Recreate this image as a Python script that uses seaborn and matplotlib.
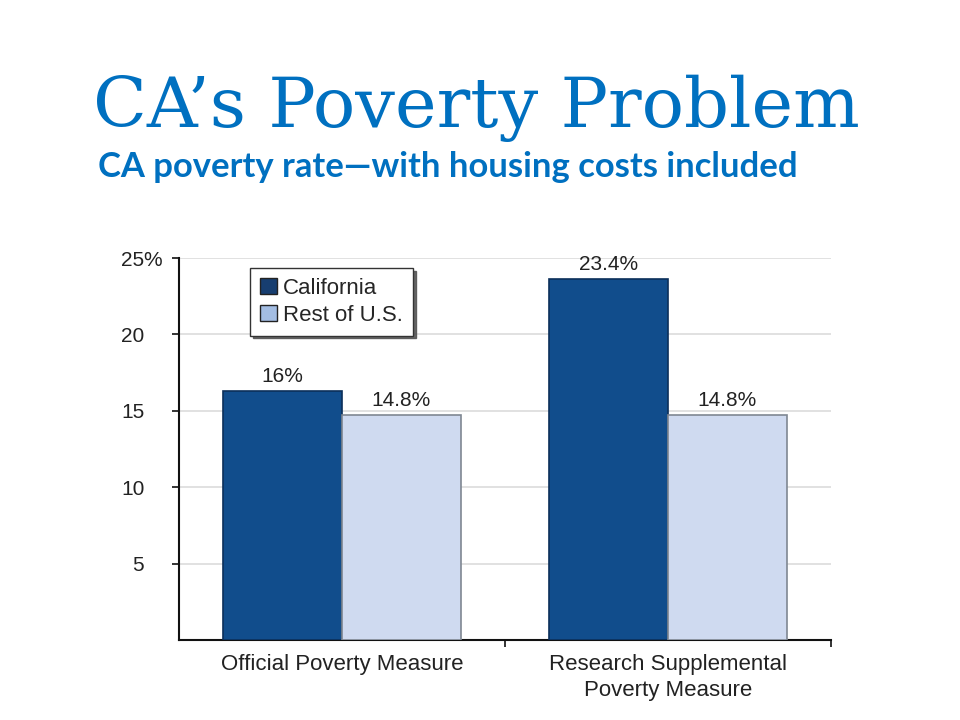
import numpy as np
import pandas as pd
import matplotlib
matplotlib.use('Agg')
import matplotlib.pyplot as plt
import matplotlib.patches as mpatches
from matplotlib.ticker import FixedLocator
import seaborn as sns

# data (bar heights as drawn, labels as printed)
measures = ['Official Poverty Measure', 'Research Supplemental\nPoverty Measure']
groups = ['California', 'Rest of U.S.']
california = [16.3, 23.6]
rest_of_us = [14.7, 14.7]
value_labels = [['16%', '23.4%'], ['14.8%', '14.8%']]
y_ticks = [5, 10, 15, 20, 25]
y_tick_labels = ['5', '10', '15', '20', '25']

df = pd.DataFrame({
    'measure': measures * 2,
    'group': [groups[0]] * 2 + [groups[1]] * 2,
    'rate': california + rest_of_us,
})

sns.set_theme(style='white')
plt.rcParams['font.family'] = ['Liberation Sans', 'DejaVu Sans']

bar_colors = {'California': '#114d8c', 'Rest of U.S.': '#cfdaf0'}
edge_colors = ['#0b2f5a', '#7f8792']
legend_colors = ['#173e70', '#a3bde3']

fig = plt.figure(figsize=(9.6, 7.2), dpi=100)
ax = fig.add_axes([179 / 960, 1 - 640 / 720, 652 / 960, 382 / 720])

sns.barplot(data=df, x='measure', y='rate', hue='group', order=measures,
            hue_order=groups, palette=bar_colors, saturation=1, width=0.73,
            gap=0, legend=False, ax=ax, zorder=3)

# bar edges + value labels
for i, cont in enumerate(ax.containers):
    for j, bar in enumerate(cont):
        bar.set_edgecolor(edge_colors[i])
        bar.set_linewidth(1.2)
        ax.text(bar.get_x() + bar.get_width() / 2, bar.get_height() + 0.35,
                value_labels[i][j], ha='center', va='bottom', fontsize=15,
                color='#222222')

ax.set_xlim(-0.5, 1.5)
ax.set_ylim(0, 25)
ax.set_xlabel('')
ax.set_ylabel('')

# numbers right-aligned, the % of the top label hangs past them
ax.set_yticks(y_ticks)
ax.set_yticklabels(y_tick_labels, fontsize=15, color='#222222')
ax.yaxis.grid(True, color='#dcdcdc', linewidth=1.2, zorder=0)
ax.tick_params(axis='y', which='major', direction='out', length=5, width=1.2,
               color='#111111', left=True, pad=20)
ax.annotate('%', xy=(0, 25), xycoords=('axes fraction', 'data'),
            xytext=(-26, 0), textcoords='offset points', ha='left',
            va='center_baseline', fontsize=15, color='#222222',
            annotation_clip=False)

ax.tick_params(axis='x', which='major', length=0, labelsize=16,
               labelcolor='#222222', pad=10)
for lab in ax.get_xticklabels():
    lab.set_linespacing(1.3)
ax.xaxis.set_minor_locator(FixedLocator([0.5, 1.5]))
ax.tick_params(axis='x', which='minor', direction='out', length=5, width=1.2,
               color='#111111', bottom=True)

for side in ['top', 'right']:
    ax.spines[side].set_visible(False)
for side in ['left', 'bottom']:
    ax.spines[side].set_color('#111111')
    ax.spines[side].set_linewidth(1.5)

handles = [mpatches.Patch(facecolor=c, edgecolor='#222222', linewidth=1.0)
           for c in legend_colors]
leg = ax.legend(handles, groups, loc='upper left',
                bbox_to_anchor=(71 / 652, 1 - 10 / 382), fontsize=16,
                frameon=True, fancybox=False, shadow={'color': '#555555', 'alpha': 0.9},
                edgecolor='#333333', handlelength=0.75, handleheight=0.75,
                handletextpad=0.3, borderpad=0.45, labelspacing=0.25,
                borderaxespad=0)
leg.get_frame().set_linewidth(1.0)

# title and subtitle, fit to widths measured on the reference
renderer = fig.canvas.get_renderer()
title = fig.text(476 / 960, 1 - 127 / 720, 'CA’s Poverty Problem',
                 ha='center', va='baseline', color='#0070c0',
                 family=['DejaVu Serif'], fontsize=60)
w = title.get_window_extent(renderer).width
title.set_fontsize(60 * 768 / w)

subtitle = fig.text(98 / 960, 1 - 177 / 720,
                    'CA poverty rate—with housing costs included',
                    ha='left', va='baseline', color='#0070c0',
                    family=['Lato', 'DejaVu Sans'], fontweight='bold', fontsize=20)
w = subtitle.get_window_extent(renderer).width
subtitle.set_fontsize(20 * 699 / w)

fig.savefig('out.png', dpi=100)
